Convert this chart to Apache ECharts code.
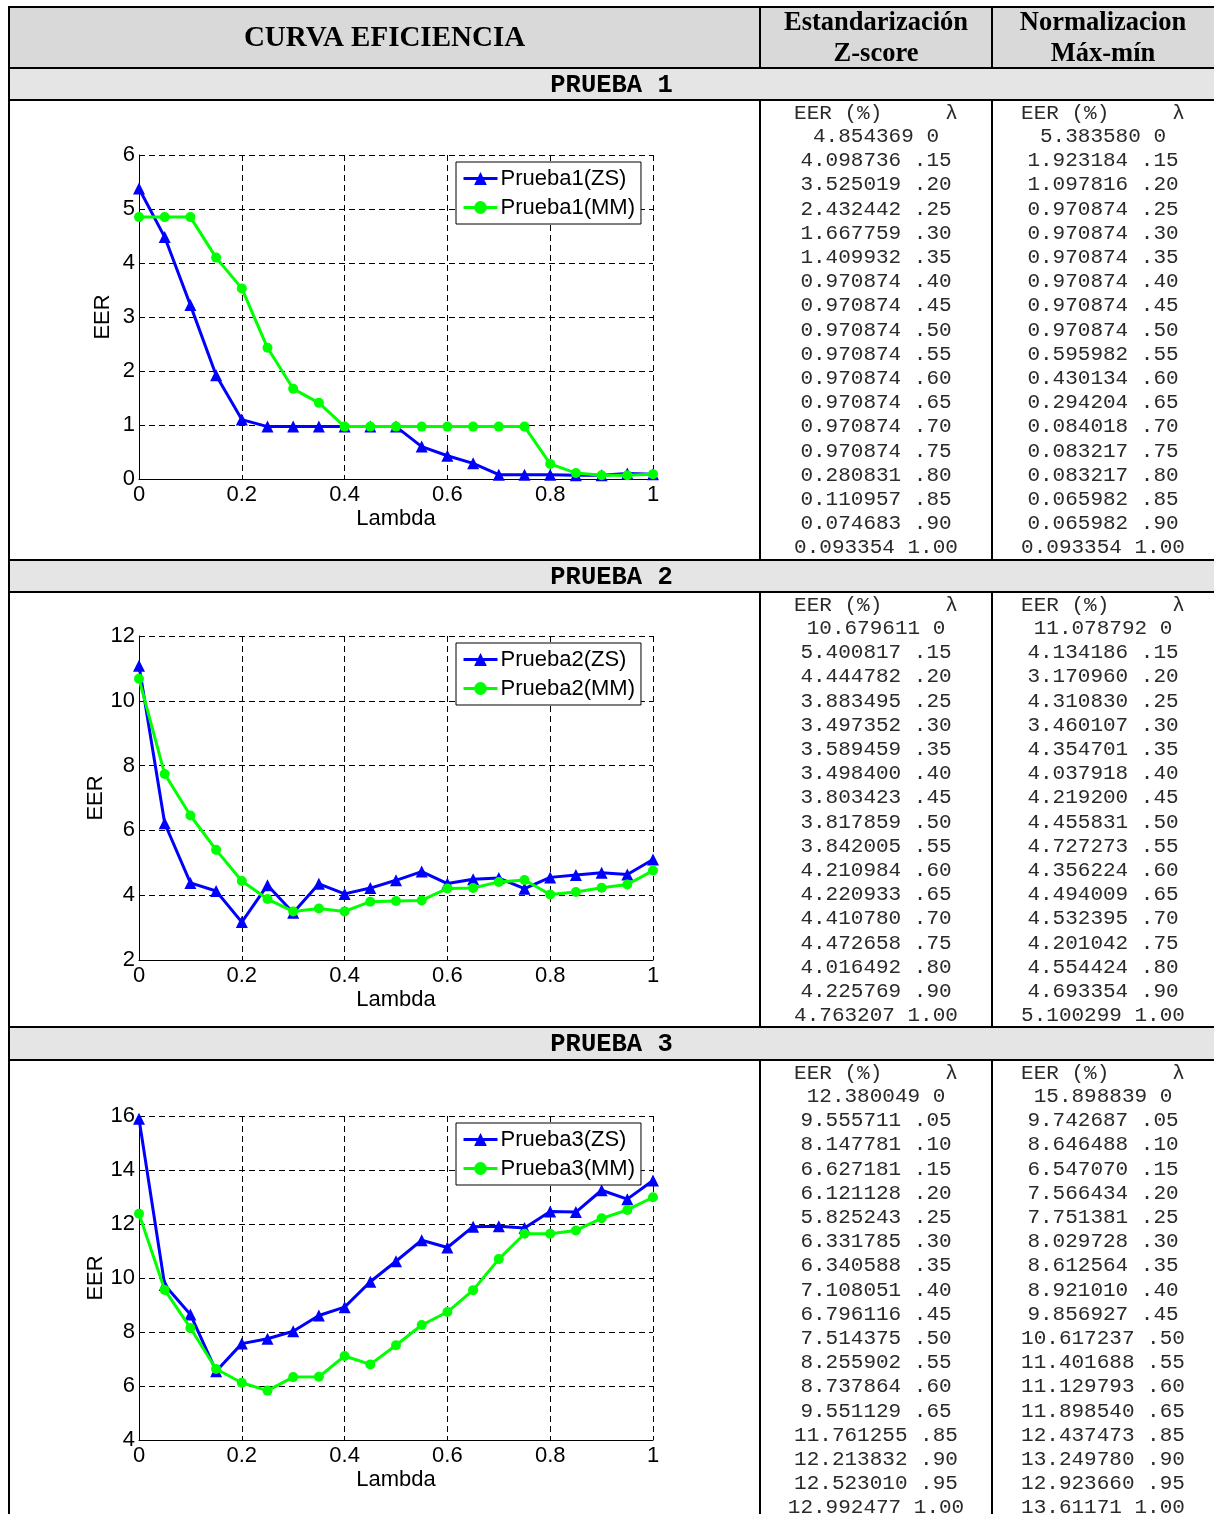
<!DOCTYPE html>
<html>
<head>
<meta charset="utf-8">
<title>Curva eficiencia</title>
<script src="https://cdn.jsdelivr.net/npm/echarts@6/dist/echarts.min.js"></script>
<style>
  html, body { margin: 0; padding: 0; background: #ffffff; }
  #chart { width: 1214px; height: 1514px; }
</style>
</head>
<body>
<div id="chart"></div>
<script>
// ---- Curve data: EER versus lambda (0 .. 1 in steps of 0.05) ----
const lambdaSteps = [0, 0.05, 0.10, 0.15, 0.20, 0.25, 0.30, 0.35, 0.40, 0.45, 0.50,
                     0.55, 0.60, 0.65, 0.70, 0.75, 0.80, 0.85, 0.90, 0.95, 1.00];

const prueba1ZS = [5.38, 4.48, 3.22, 1.92, 1.10, 0.97, 0.97, 0.97, 0.97, 0.97, 0.97,
                   0.60, 0.43, 0.29, 0.08, 0.08, 0.08, 0.07, 0.07, 0.10, 0.09];
const prueba1MM = [4.85, 4.85, 4.85, 4.10, 3.53, 2.43, 1.67, 1.41, 0.97, 0.97, 0.97,
                   0.97, 0.97, 0.97, 0.97, 0.97, 0.28, 0.11, 0.07, 0.07, 0.09];

const prueba2ZS = [11.08, 6.22, 4.38, 4.13, 3.17, 4.31, 3.46, 4.35, 4.04, 4.22, 4.46,
                   4.73, 4.36, 4.49, 4.53, 4.20, 4.55, 4.62, 4.69, 4.64, 5.10];
const prueba2MM = [10.68, 7.74, 6.46, 5.40, 4.44, 3.88, 3.50, 3.59, 3.50, 3.80, 3.82,
                   3.84, 4.21, 4.22, 4.41, 4.47, 4.02, 4.10, 4.23, 4.33, 4.76];

const prueba3ZS = [15.90, 9.74, 8.65, 6.55, 7.57, 7.75, 8.03, 8.61, 8.92, 9.86, 10.62,
                   11.40, 11.13, 11.90, 11.92, 11.85, 12.46, 12.44, 13.25, 12.92, 13.61];
const prueba3MM = [12.38, 9.56, 8.15, 6.63, 6.12, 5.83, 6.33, 6.34, 7.11, 6.80, 7.51,
                   8.26, 8.74, 9.55, 10.70, 11.64, 11.64, 11.76, 12.21, 12.52, 12.99];

// ---- Axis ticks ----
const xTickLabels = ['0', '0.2', '0.4', '0.6', '0.8', '1'];
const yRanges = [[0, 6, 1], [2, 12, 2], [4, 16, 2]];

// ---- Table columns: EER (%) and lambda for each test ----
const tabla1Lambda = ['0', '.15', '.20', '.25', '.30', '.35', '.40', '.45', '.50', '.55',
                      '.60', '.65', '.70', '.75', '.80', '.85', '.90', '1.00'];
const tabla1ZS = ['4.854369', '4.098736', '3.525019', '2.432442', '1.667759', '1.409932',
                  '0.970874', '0.970874', '0.970874', '0.970874', '0.970874', '0.970874',
                  '0.970874', '0.970874', '0.280831', '0.110957', '0.074683', '0.093354'];
const tabla1MM = ['5.383580', '1.923184', '1.097816', '0.970874', '0.970874', '0.970874',
                  '0.970874', '0.970874', '0.970874', '0.595982', '0.430134', '0.294204',
                  '0.084018', '0.083217', '0.083217', '0.065982', '0.065982', '0.093354'];

const tabla2Lambda = ['0', '.15', '.20', '.25', '.30', '.35', '.40', '.45', '.50', '.55',
                      '.60', '.65', '.70', '.75', '.80', '.90', '1.00'];
const tabla2ZS = ['10.679611', '5.400817', '4.444782', '3.883495', '3.497352', '3.589459',
                  '3.498400', '3.803423', '3.817859', '3.842005', '4.210984', '4.220933',
                  '4.410780', '4.472658', '4.016492', '4.225769', '4.763207'];
const tabla2MM = ['11.078792', '4.134186', '3.170960', '4.310830', '3.460107', '4.354701',
                  '4.037918', '4.219200', '4.455831', '4.727273', '4.356224', '4.494009',
                  '4.532395', '4.201042', '4.554424', '4.693354', '5.100299'];

const tabla3Lambda = ['0', '.05', '.10', '.15', '.20', '.25', '.30', '.35', '.40', '.45',
                      '.50', '.55', '.60', '.65', '.85', '.90', '.95', '1.00'];
const tabla3ZS = ['12.380049', '9.555711', '8.147781', '6.627181', '6.121128', '5.825243',
                  '6.331785', '6.340588', '7.108051', '6.796116', '7.514375', '8.255902',
                  '8.737864', '9.551129', '11.761255', '12.213832', '12.523010', '12.992477'];
const tabla3MM = ['15.898839', '9.742687', '8.646488', '6.547070', '7.566434', '7.751381',
                  '8.029728', '8.612564', '8.921010', '9.856927', '10.617237', '11.401688',
                  '11.129793', '11.898540', '12.437473', '13.249780', '12.923660', '13.61171'];

const titulo = 'CURVA EFICIENCIA';
const colZS = ['Estandarización', 'Z-score'];
const colMM = ['Normalizacion', 'Máx-mín'];
const pruebas = ['PRUEBA 1', 'PRUEBA 2', 'PRUEBA 3'];
const encabezadoTabla = 'EER (%)     λ';

// ---- Page layout ----
const PAGE_W = 1214, PAGE_H = 1514;
const LEFT = 9, TOP = 7, HEAD_BOTTOM = 68;
const COL1 = 760, COL2 = 992;
const bands = [[68, 100], [560, 592], [1027, 1060]];
const sectionEnds = [560, 1027, PAGE_H];
const rowHeadY = [113, 605, 1073];
const ROW_STEP = 24.2;
const gridTops = [155, 636, 1116];
const GRID_LEFT = 139, GRID_W = 514, GRID_H = 324;

const SANS = 'Liberation Sans, Arial, Helvetica, sans-serif';
const SERIF = 'Liberation Serif, Times New Roman, serif';
const MONO = 'Liberation Mono, Courier New, monospace';

const graphics = [];
function addRect(x, y, w, h, fill) {
  graphics.push({ type: 'rect', silent: true, z: 1,
    shape: { x, y, width: w, height: h }, style: { fill } });
}
function addLine(x1, y1, x2, y2) {
  graphics.push({ type: 'line', silent: true, z: 5,
    shape: { x1, y1, x2, y2 }, style: { stroke: '#000000', lineWidth: 2 } });
}
function addText(x, y, str, font, fill) {
  graphics.push({ type: 'text', silent: true, z: 6, x, y,
    style: { text: str, font, fill: fill || '#000000',
             align: 'center', textAlign: 'center',
             verticalAlign: 'middle', textVerticalAlign: 'middle' } });
}

// header and band fills
addRect(LEFT, TOP, PAGE_W - LEFT, HEAD_BOTTOM - TOP, '#d9d9d9');
bands.forEach(b => addRect(LEFT, b[0], PAGE_W - LEFT, b[1] - b[0], '#e5e5e5'));

// borders
[TOP, HEAD_BOTTOM].concat(...bands).forEach(y => addLine(LEFT - 1, y, PAGE_W, y));
addLine(LEFT, TOP - 1, LEFT, PAGE_H);
[COL1, COL2].forEach(x => {
  addLine(x, TOP, x, HEAD_BOTTOM);
  bands.forEach((b, i) => addLine(x, b[1], x, sectionEnds[i]));
});

// header texts
addText((LEFT + COL1) / 2, 39, titulo, 'bold 29px ' + SERIF);
addText((COL1 + COL2) / 2, 23, colZS[0], 'bold 26.5px ' + SERIF);
addText((COL1 + COL2) / 2, 54, colZS[1], 'bold 26.5px ' + SERIF);
addText((COL2 + PAGE_W) / 2, 23, colMM[0], 'bold 26.5px ' + SERIF);
addText((COL2 + PAGE_W) / 2, 54, colMM[1], 'bold 26.5px ' + SERIF);
bands.forEach((b, i) => addText((LEFT + PAGE_W) / 2, (b[0] + b[1]) / 2 + 1.5, pruebas[i], 'bold 25.5px ' + MONO));

// table columns
const tablas = [
  [tabla1Lambda, tabla1ZS, tabla1MM],
  [tabla2Lambda, tabla2ZS, tabla2MM],
  [tabla3Lambda, tabla3ZS, tabla3MM]
];
const cellFont = '21px ' + MONO;
const cellColor = '#2a2a2a';
tablas.forEach((t, i) => {
  const [lam, zs, mm] = t;
  const y0 = rowHeadY[i];
  addText((COL1 + COL2) / 2, y0, encabezadoTabla, cellFont, cellColor);
  addText((COL2 + PAGE_W) / 2, y0, encabezadoTabla, cellFont, cellColor);
  lam.forEach((l, k) => {
    const y = y0 + 23.5 + k * ROW_STEP;
    addText((COL1 + COL2) / 2, y, zs[k] + ' ' + l, cellFont, cellColor);
    addText((COL2 + PAGE_W) / 2, y, mm[k] + ' ' + l, cellFont, cellColor);
  });
});

// ---- Charts ----
const curves = [
  [prueba1ZS, prueba1MM],
  [prueba2ZS, prueba2MM],
  [prueba3ZS, prueba3MM]
];
const pairs = vals => lambdaSteps.map((x, i) => [x, vals[i]]);
const axisText = { color: '#000000', fontFamily: SANS, fontSize: 22 };
const dashed = { show: true, lineStyle: { color: '#000000', width: 1, type: [6, 4] } };

const grid = [], xAxis = [], yAxis = [], legend = [], series = [];
curves.forEach((c, i) => {
  const n = i + 1;
  grid.push({ left: GRID_LEFT, top: gridTops[i], width: GRID_W, height: GRID_H, containLabel: false });
  xAxis.push({
    type: 'value', gridIndex: i, min: 0, max: 1, interval: 0.2,
    name: 'Lambda', nameLocation: 'middle', nameGap: 29,
    nameTextStyle: axisText,
    axisLine: { show: true, onZero: false, lineStyle: { color: '#000000', width: 1 } },
    axisTick: { show: false },
    axisLabel: Object.assign({ margin: 5, formatter: v => xTickLabels[Math.round(v / 0.2)] }, axisText),
    splitLine: dashed
  });
  const [ymin, ymax, step] = yRanges[i];
  yAxis.push({
    type: 'value', gridIndex: i, min: ymin, max: ymax, interval: step,
    name: 'EER', nameLocation: 'middle', nameGap: 25,
    nameTextStyle: axisText,
    axisLine: { show: true, onZero: false, lineStyle: { color: '#000000', width: 1 } },
    axisTick: { show: false },
    axisLabel: Object.assign({ margin: 4 }, axisText),
    splitLine: dashed
  });
  const nameZS = 'Prueba' + n + '(ZS)';
  const nameMM = 'Prueba' + n + '(MM)';
  legend.push({
    data: [nameZS, nameMM], orient: 'vertical',
    left: 456, top: gridTops[i] + 7,
    backgroundColor: '#ffffff', borderColor: '#000000', borderWidth: 1,
    padding: [5, 6, 5, 6], itemGap: 6, itemWidth: 34, itemHeight: 16,
    lineStyle: { width: 3 },
    textStyle: { color: '#000000', fontFamily: SANS, fontSize: 22, lineHeight: 23, padding: [0, 0, 0, -2] },
    selectedMode: false
  });
  series.push({
    name: nameZS, type: 'line', xAxisIndex: i, yAxisIndex: i,
    data: pairs(c[0]), color: '#0000ff',
    symbol: 'triangle', symbolSize: 12, showSymbol: true,
    lineStyle: { width: 3, color: '#0000ff' },
    itemStyle: { color: '#0000ff' }, z: 3
  });
  series.push({
    name: nameMM, type: 'line', xAxisIndex: i, yAxisIndex: i,
    data: pairs(c[1]), color: '#00ff00',
    symbol: 'circle', symbolSize: 10, showSymbol: true,
    lineStyle: { width: 3, color: '#00ff00' },
    itemStyle: { color: '#00ff00' }, z: 4
  });
});

const chart = echarts.init(document.getElementById('chart'), null, { renderer: 'canvas' });
chart.setOption({
  backgroundColor: '#ffffff',
  animation: false,
  grid, xAxis, yAxis, legend, series,
  graphic: { elements: graphics }
});
</script>
</body>
</html>
